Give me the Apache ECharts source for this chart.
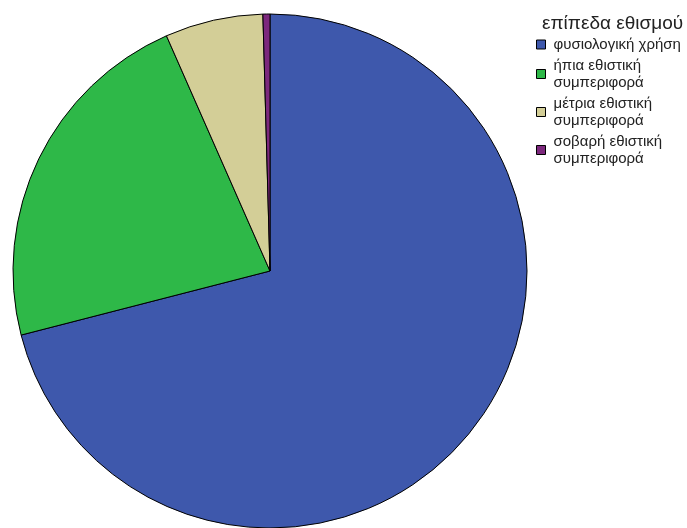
<!DOCTYPE html>
<html>
<head>
<meta charset="utf-8">
<script src="https://cdn.jsdelivr.net/npm/echarts@6/dist/echarts.min.js"></script>
<style>html,body{margin:0;padding:0;background:#fff;}#c{width:687px;height:528px;}</style>
</head>
<body>
<div id="c"></div>
<script>
const legendTitle = "επίπεδα εθισμού";
const categories = ["φυσιολογική χρήση", "ήπια εθιστική συμπεριφορά", "μέτρια εθιστική συμπεριφορά", "σοβαρή εθιστική συμπεριφορά"];
const values = [70.99, 22.41, 6.16, 0.44];
const colors = ["#3E58AC", "#2EB848", "#D3CE97", "#7C287D"];

const chart = echarts.init(document.getElementById('c'), null, {renderer: 'canvas'});
chart.setOption({
  backgroundColor: '#ffffff',
  animation: false,
  title: {
    text: legendTitle,
    left: 537, top: 9,
    textStyle: {fontFamily: 'Liberation Sans, Arial, sans-serif', fontSize: 19, fontWeight: 'normal', color: '#222'}
  },
  legend: {
    orient: 'vertical',
    left: 536, top: 36,
    padding: 0,
    itemWidth: 9, itemHeight: 9, itemGap: 4,
    icon: 'rect',
    data: categories,
    formatter: function (n) { return n.replace('εθιστική ', 'εθιστική\n'); },
    textStyle: {fontFamily: 'Liberation Sans, Arial, sans-serif', fontSize: 15, color: '#222', lineHeight: 17, padding: [0,0,0,3]},
    itemStyle: {borderColor: '#000', borderWidth: 1}
  },
  series: [{
    type: 'pie',
    center: [270, 271],
    radius: 257,
    startAngle: 90,
    clockwise: true,
    label: {show: false},
    labelLine: {show: false},
    emphasis: {disabled: true},
    itemStyle: {borderColor: '#000', borderWidth: 1},
    data: categories.map((c, i) => ({name: c, value: values[i], itemStyle: {color: colors[i]}}))
  }]
});
</script>
</body>
</html>
